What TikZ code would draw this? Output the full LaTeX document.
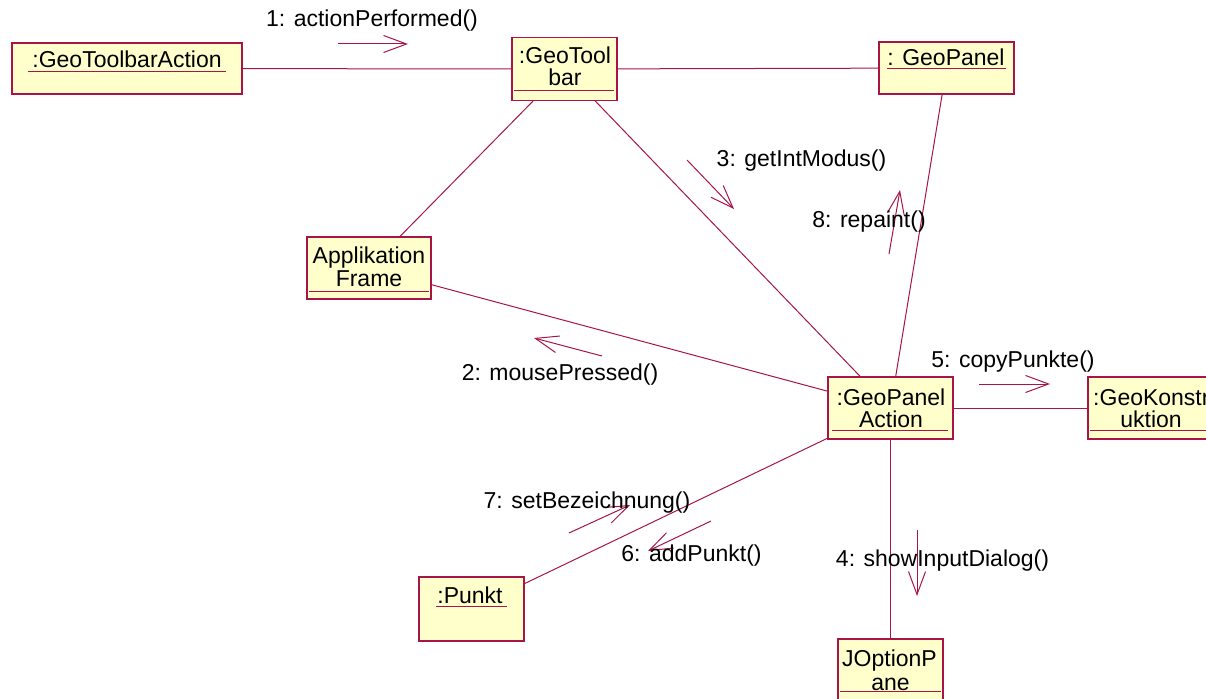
\documentclass[tikz,border=0pt]{standalone}
\usepackage{fontspec}
\setmainfont{Liberation Sans}
\usetikzlibrary{arrows.meta}
\definecolor{roseline}{RGB}{168,20,72}
\definecolor{rosefill}{RGB}{255,255,204}
\tikzset{
  obj/.style={draw=roseline, fill=rosefill, line width=1.1pt, rectangle, inner sep=0pt},
  lbl/.style={anchor=base, inner sep=0pt, font=\fontsize{23}{25}\selectfont},
  link/.style={draw=roseline, line width=1pt},
  msg/.style={draw=roseline, line width=1pt, -{Straight Barb[length=23pt,width=17pt]}},
  uline/.style={draw=roseline, line width=1pt},
}
\begin{document}
\begin{tikzpicture}[x=1pt,y=-1pt]
\useasboundingbox (0,0) rectangle (1206,698);
\begin{scope}
\clip (0,0) rectangle (1206,698);
% objects
\node[obj, minimum width=230pt, minimum height=51pt] (gta) at (127,68.5) {};
\node[obj, minimum width=105pt, minimum height=63pt] (gt) at (564.5,69) {};
\node[obj, minimum width=135pt, minimum height=52pt] (gp) at (946.5,68) {};
\node[obj, minimum width=124pt, minimum height=62pt] (af) at (369,268) {};
\node[obj, minimum width=125pt, minimum height=62pt] (gpa) at (890.5,408) {};
\node[obj, minimum width=125pt, minimum height=62pt] (gk) at (1150.5,408) {};
\node[obj, minimum width=105pt, minimum height=64pt] (pk) at (471.5,609) {};
\node[obj, minimum width=105pt, minimum height=62pt] (jop) at (890.5,670) {};
% links
\draw[link] (gta) -- (gt);
\draw[link] (gt) -- (gp);
\draw[link] (gt) -- (af);
\draw[link] (gt) -- (gpa);
\draw[link] (gp) -- (gpa);
\draw[link] (af) -- (gpa);
\draw[link] (gpa) -- (gk);
\draw[link] (gpa) -- (pk);
\draw[link] (gpa) -- (jop);
% object names
\node[lbl] (tgta) at (127,67.3) {:GeoToolbarAction};
\draw[uline] (28,71.7) -- (226,71.7);
\node[lbl] (tgt1) at (565,63.3) {:GeoTool};
\node[lbl] (tgt2) at (565,86) {bar};
\draw[uline] (514,90.7) -- (614,90.7);
\node[lbl] (tgp) at (946,66) {: GeoPanel};
\draw[uline] (887,68.8) -- (1006,68.8);
\node[lbl] (taf1) at (369,263.3) {Applikation};
\node[lbl] (taf2) at (369,286.7) {Frame};
\draw[uline] (309,291.7) -- (429,291.7);
\node[lbl] (tgpa1) at (891,405) {:GeoPanel};
\node[lbl] (tgpa2) at (891,427.3) {Action};
\draw[uline] (832,430.7) -- (948,430.7);
\node[lbl, anchor=base west] (tgk1) at (1093,405) {:GeoKonstr};
\node[lbl] (tgk2) at (1151,427.3) {uktion};
\draw[uline] (1090,430.7) -- (1211,430.7);
\node[lbl] (tpk) at (470,603.3) {:Punkt};
\draw[uline] (436,606) -- (507,606);
\node[lbl] (tjop1) at (889.5,666.7) {JOptionP};
\node[lbl] (tjop2) at (890.5,690) {ane};
\draw[uline] (840,691.7) -- (941,691.7);
% messages
\coordinate (m1a) at (338,44); \coordinate (m1b) at (408,44);
\draw[msg] (m1a) -- (m1b);
\node[lbl] (l1) at (372,27) {1: actionPerformed()};
\coordinate (m2a) at (602,356); \coordinate (m2b) at (534,338);
\draw[msg] (m2a) -- (m2b);
\node[lbl] (l2) at (560,380) {2: mousePressed()};
\coordinate (m3a) at (687,160); \coordinate (m3b) at (734,209);
\draw[msg] (m3a) -- (m3b);
\node[lbl] (l3) at (801.5,166.5) {3: getIntModus()};
\coordinate (m8a) at (889,254); \coordinate (m8b) at (900,190);
\draw[msg] (m8a) -- (m8b);
\node[lbl] (l8) at (869,227) {8: repaint()};
\coordinate (m5a) at (979,384); \coordinate (m5b) at (1050,384);
\draw[msg] (m5a) -- (m5b);
\node[lbl] (l5) at (1013,367) {5: copyPunkte()};
\coordinate (m4a) at (917,530); \coordinate (m4b) at (917,596);
\draw[msg] (m4a) -- (m4b);
\node[lbl] (l4) at (942.5,566.7) {4: showInputDialog()};
\coordinate (m7a) at (569,533); \coordinate (m7b) at (630,505);
\draw[msg] (m7a) -- (m7b);
\node[lbl] (l7) at (587,508) {7: setBezeichnung()};
\coordinate (m6a) at (711,521); \coordinate (m6b) at (648,551);
\draw[msg] (m6a) -- (m6b);
\node[lbl] (l6) at (691.5,561.7) {6: addPunkt()};
\end{scope}
\end{tikzpicture}
\end{document}
